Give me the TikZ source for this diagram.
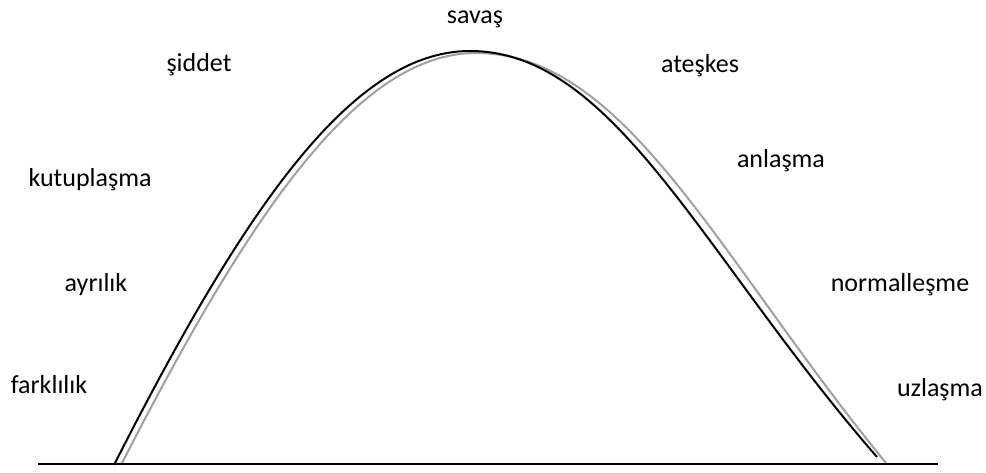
\documentclass[tikz,border=0pt]{standalone}
\usepackage{fontspec}
\setmainfont{Carlito}
\usepackage{xcolor}
\definecolor{curvegrey}{RGB}{160,160,160}
\usetikzlibrary{positioning}

\begin{document}
\begin{tikzpicture}[x=1pt,y=-1pt,
  stage/.style={font=\fontsize{26}{30}\selectfont,anchor=base,inner sep=0pt},
  blackcurve/.style={draw=black,line width=2pt},
  greycurve/.style={draw=curvegrey,line width=2pt}]
  \useasboundingbox (0,0) rectangle (986,473);
  % grey curve behind
  \draw[greycurve] (121,465) .. controls (248,217) and (357,53) .. (476,53)
    .. controls (626,53) and (718,258) .. (886,463);
  % black curve
  \draw[blackcurve] (114,465) .. controls (241,215) and (350,51) .. (470,51)
    .. controls (615,51) and (703,257) .. (877,457);
  % ground line
  \coordinate (gl) at (38,464);
  \coordinate (gr) at (938,464);
  \draw[line width=1.5pt] (gl) -- (gr);
  % left side
  \node[stage] (farklilik) at (49,393) {farklılık};
  \node[stage] (ayrilik) at (96,291) {ayrılık};
  \node[stage] (kutuplasma) at (90,187) {kutuplaşma};
  \node[stage] (siddet) at (199,72) {şiddet};
  % top
  \node[stage] (savas) at (475,24) {savaş};
  % right side
  \node[stage] (ateskes) at (700,73) {ateşkes};
  \node[stage] (anlasma) at (781,168) {anlaşma};
  \node[stage] (normallesme) at (900,292) {normalleşme};
  \node[stage] (uzlasma) at (940,396) {uzlaşma};
\end{tikzpicture}
\end{document}
